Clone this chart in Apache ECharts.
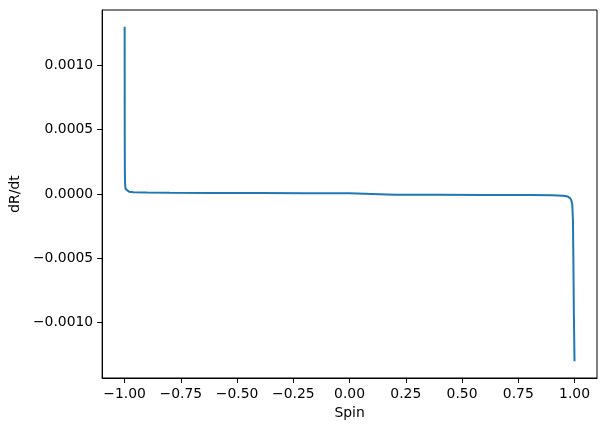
<!DOCTYPE html>
<html>
<head>
<meta charset="utf-8">
<script src="https://cdn.jsdelivr.net/npm/echarts@6/dist/echarts.min.js"></script>
<style>
  html, body { margin: 0; padding: 0; background: #ffffff; }
  #chart { width: 605px; height: 432px; }
</style>
</head>
<body>
<div id="chart"></div>
<script>
// values
const spin = [
  -1.0, -0.9995, -0.999, -0.998, -0.996, -0.99, -0.98, -0.96, -0.9, -0.8,
  -0.6, -0.4, -0.2, -0.0001, 0.0001, 0.2, 0.4, 0.6, 0.8, 0.9,
  0.95, 0.97, 0.98, 0.986, 0.99, 0.993, 0.995, 0.997, 1.0
];
const dRdt = [
  0.0013, 0.0004, 0.00018, 0.00008, 0.00004, 0.000025, 0.000018, 0.000014, 0.000011, 0.000009,
  0.000008, 0.000007, 0.000006, 0.000005, -0.000006, -0.000006, -0.000006, -0.000007, -0.000008, -0.00001,
  -0.000014, -0.00002, -0.000032, -0.00005, -0.00008, -0.0002, -0.0005, -0.0009, -0.0013
];
const xTicks = [-1, -0.75, -0.5, -0.25, 0, 0.25, 0.5, 0.75, 1];
const yTicks = [-0.001, -0.0005, 0, 0.0005, 0.001];

const points = spin.map((s, i) => [s, dRdt[i]]);
const fnt = "DejaVu Sans";
const minus = (v, d) => v.toFixed(d).replace("-", "\u2212");

let chart = echarts.init(document.getElementById("chart"));
let option = {
  animation: false,
  backgroundColor: "#ffffff",
  grid: {
    left: 100,
    right: 8,
    top: 10,
    bottom: 54,
    show: true,
    borderColor: "#000000",
    borderWidth: 1,
  },
  xAxis: {
    type: "value",
    min: -1.1,
    max: 1.1,
    name: "Spin",
    nameLocation: "middle",
    nameGap: 27,
    nameTextStyle: { fontFamily: fnt, fontSize: 13.9, color: "#000" },
    splitLine: { show: false },
    axisLine: { show: true, onZero: false, lineStyle: { color: "#000", width: 1 } },
    axisTick: {
      show: true,
      inside: false,
      length: 5,
      customValues: xTicks,
      lineStyle: { color: "#000" },
    },
    axisLabel: {
      customValues: xTicks,
      margin: 9,
      fontFamily: fnt,
      fontSize: 13.9,
      color: "#000",
      formatter: (v) => minus(v, 2),
    },
  },
  yAxis: {
    type: "value",
    min: -0.00143,
    max: 0.00143,
    name: "dR/dt",
    nameLocation: "middle",
    nameGap: 62,
    nameRotate: 90,
    nameTextStyle: { fontFamily: fnt, fontSize: 13.9, color: "#000" },
    splitLine: { show: false },
    axisLine: { show: true, onZero: false, lineStyle: { color: "#000", width: 1 } },
    axisTick: {
      show: true,
      inside: false,
      length: 5,
      customValues: yTicks,
      lineStyle: { color: "#000" },
    },
    axisLabel: {
      customValues: yTicks,
      margin: 9,
      fontFamily: fnt,
      fontSize: 13.9,
      color: "#000",
      formatter: (v) => minus(v, 4),
    },
  },
  series: [
    {
      type: "line",
      data: points,
      showSymbol: false,
      lineStyle: { color: "#1f77b4", width: 2 },
      itemStyle: { color: "#1f77b4" },
    },
  ],
};
chart.setOption(option);
</script>
</body>
</html>
